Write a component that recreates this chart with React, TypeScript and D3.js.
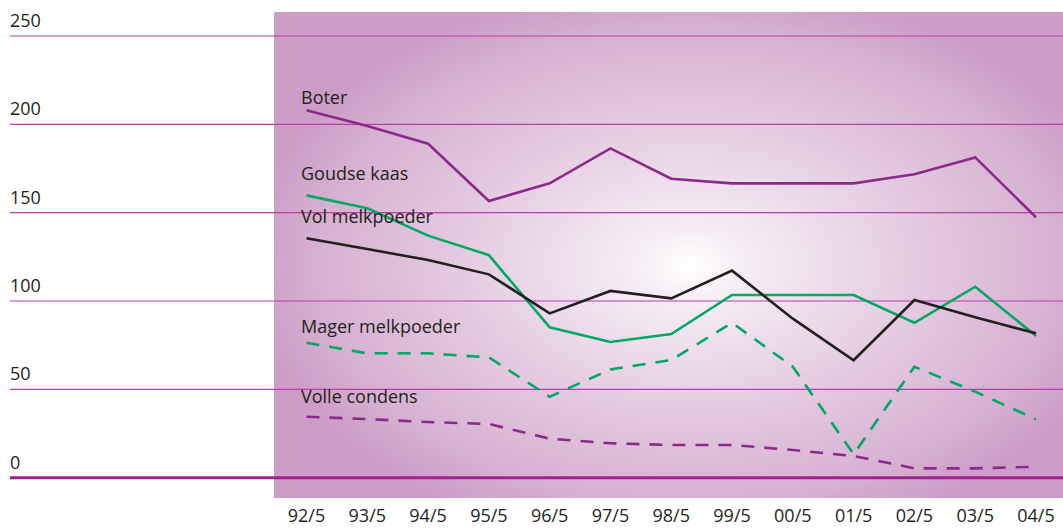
import * as d3 from 'd3';
import React from 'react';

const jaren = ['92/5', '93/5', '94/5', '95/5', '96/5', '97/5', '98/5', '99/5', '00/5', '01/5', '02/5', '03/5', '04/5'];
const boter = [208, 199, 189, 156.6, 166.6, 186.4, 169.2, 166.6, 166.6, 166.6, 171.7, 181.3, 147.4];
const goudseKaas = [159.8, 152.5, 137, 126, 85.1, 76.8, 81.3, 103.4, 103.4, 103.4, 87.7, 108.1, 80.2];
const volMelkpoeder = [135.5, 129.4, 123.2, 115.1, 93, 105.7, 101.5, 117.2, 90, 66.5, 100.6, 90.8, 81.7];
const magerMelkpoeder = [76.4, 70.4, 70.4, 68.1, 45.8, 61.3, 66.6, 87.7, 62.8, 13.3, 62.8, 48.7, 33];
const volleCondens = [34.5, 33.2, 31.5, 30.4, 22.1, 19.5, 18.5, 18.5, 15.7, 12.3, 5.3, 5.3, 6.2];
const yTicks = [0, 50, 100, 150, 200, 250];

const series = [
    { naam: 'Boter', waarden: boter, kleur: '#8c2a8b', dash: null, labelY: 104 },
    { naam: 'Goudse kaas', waarden: goudseKaas, kleur: '#00a865', dash: null, labelY: 180 },
    { naam: 'Vol melkpoeder', waarden: volMelkpoeder, kleur: '#231f20', dash: null, labelY: 223 },
    { naam: 'Mager melkpoeder', waarden: magerMelkpoeder, kleur: '#00a865', dash: '13 10', labelY: 333 },
    { naam: 'Volle condens', waarden: volleCondens, kleur: '#8c2a8b', dash: '13 10', labelY: 403 },
];

export default function App() {
    const width = 1063;
    const height = 529;

    const x = d3.scalePoint().domain(jaren).range([306.5, 1036]);
    const y = d3.scaleLinear().domain([0, 250]).range([477.7, 36]);

    const line = d3.line<number>()
        .x((d, i) => x(jaren[i]) as number)
        .y(d => y(d));

    const font = '"Open Sans", "DejaVu Sans", sans-serif';

    return (
        <svg width={width} height={height} style={{ position: 'absolute', left: 0, top: 0, background: '#fff' }}>
            <defs>
                <radialGradient id="achtergrond" gradientUnits="userSpaceOnUse"
                    cx={0} cy={0} r={1}
                    gradientTransform="translate(690,265) scale(440,280)">
                    <stop offset="0" stopColor="#ffffff" />
                    <stop offset="0.12" stopColor="#f7eef5" />
                    <stop offset="0.5" stopColor="#e5cce2" />
                    <stop offset="0.85" stopColor="#d6b0d1" />
                    <stop offset="1" stopColor="#cd9dc7" />
                </radialGradient>
            </defs>

            {/* achtergrondvlak */}
            <rect x={274} y={12} width={width - 274} height={486} fill="url(#achtergrond)" />

            {/* rasterlijnen */}
            {yTicks.map(t => (
                <g key={t}>
                    <line x1={10} x2={width} y1={y(t)} y2={y(t)}
                        stroke={t === 0 ? '#a3208f' : '#b83ea8'}
                        strokeWidth={t === 0 ? 3 : 1.2} />
                    <text x={10} y={y(t) - 9} fontFamily={font} fontSize={18} fill="#231f20">{t}</text>
                </g>
            ))}

            {/* lijnen */}
            {series.map(s => (
                <path key={s.naam} d={line(s.waarden) || ''} fill="none" stroke={s.kleur}
                    strokeWidth={2.6} strokeDasharray={s.dash || undefined} strokeLinejoin="miter" />
            ))}

            {/* labels */}
            {series.map(s => (
                <text key={s.naam + '-l'} x={301} y={s.labelY} fontFamily={font} fontSize={18} fill="#231f20">{s.naam}</text>
            ))}

            {/* x-as labels */}
            {jaren.map(j => (
                <text key={j} x={x(j)} y={522} textAnchor="middle" fontFamily={font} fontSize={18} fill="#231f20">{j}</text>
            ))}
        </svg>
    );
}
